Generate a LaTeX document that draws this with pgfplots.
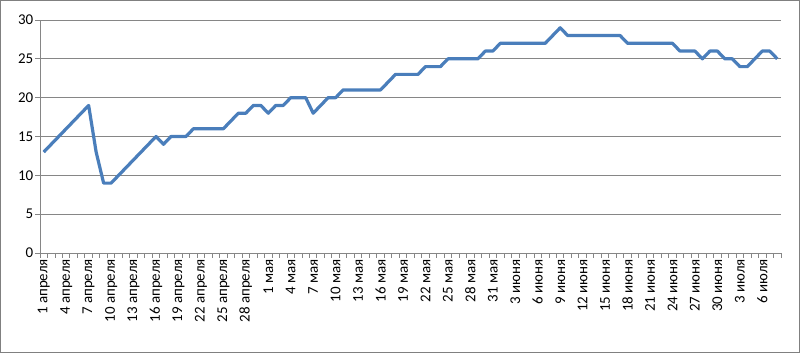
\documentclass[border=0pt]{standalone}
\usepackage{pgfplots}
\pgfplotsset{compat=1.18}
\usepackage{fontspec}
\setmainfont{Carlito}
\definecolor{linec}{RGB}{74,126,187}
\definecolor{gridc}{RGB}{134,134,134}
\definecolor{framec}{RGB}{128,128,128}
\begin{document}
\begin{tikzpicture}[x=1bp,y=1bp]
\useasboundingbox (-40,-100) rectangle (760,253);
\draw[framec, line width=1.2bp] (-39.4,-99.4) rectangle (759.4,252.4);
\begin{axis}[
  at={(0,0)}, anchor=south west,
  scale only axis, width=741bp, height=233bp,
  xmin=-0.5, xmax=98.5, ymin=0, ymax=30,
  axis lines*=left,
  axis line style={gridc, line width=0.9bp},
  ytick={0,5,...,30},
  ymajorgrids,
  grid style={gridc, line width=0.9bp},
  xtick={0,3,...,96},
  xticklabels={1 апреля,4 апреля,7 апреля,10 апреля,13 апреля,16 апреля,19 апреля,22 апреля,25 апреля,28 апреля,1 мая,4 мая,7 мая,10 мая,13 мая,16 мая,19 мая,22 мая,25 мая,28 мая,31 мая,3 июня,6 июня,9 июня,12 июня,15 июня,18 июня,21 июня,24 июня,27 июня,30 июня,3 июля,6 июля},
  minor xtick={-0.5,0.5,...,98.5},
  major x tick style={draw=none},
  tick align=outside,
  major tick length=4.5bp, minor tick length=4.5bp,
  tick style={gridc, line width=0.9bp},
  x tick label style={rotate=90, anchor=east, inner sep=1.5bp},
  y tick label style={inner sep=2bp},
  tick label style={font=\fontsize{15}{17}\selectfont, text=black},
  /pgf/number format/assume math mode=true,
  clip=false,
]
\addplot[linec, line width=3.2bp, line join=round, mark=none] table[x=i, y=v] {
i v
0 13
1 14
2 15
3 16
4 17
5 18
6 19
7 13
8 9
9 9
10 10
11 11
12 12
13 13
14 14
15 15
16 14
17 15
18 15
19 15
20 16
21 16
22 16
23 16
24 16
25 17
26 18
27 18
28 19
29 19
30 18
31 19
32 19
33 20
34 20
35 20
36 18
37 19
38 20
39 20
40 21
41 21
42 21
43 21
44 21
45 21
46 22
47 23
48 23
49 23
50 23
51 24
52 24
53 24
54 25
55 25
56 25
57 25
58 25
59 26
60 26
61 27
62 27
63 27
64 27
65 27
66 27
67 27
68 28
69 29
70 28
71 28
72 28
73 28
74 28
75 28
76 28
77 28
78 27
79 27
80 27
81 27
82 27
83 27
84 27
85 26
86 26
87 26
88 25
89 26
90 26
91 25
92 25
93 24
94 24
95 25
96 26
97 26
98 25
};
\end{axis}
\end{tikzpicture}
\end{document}
